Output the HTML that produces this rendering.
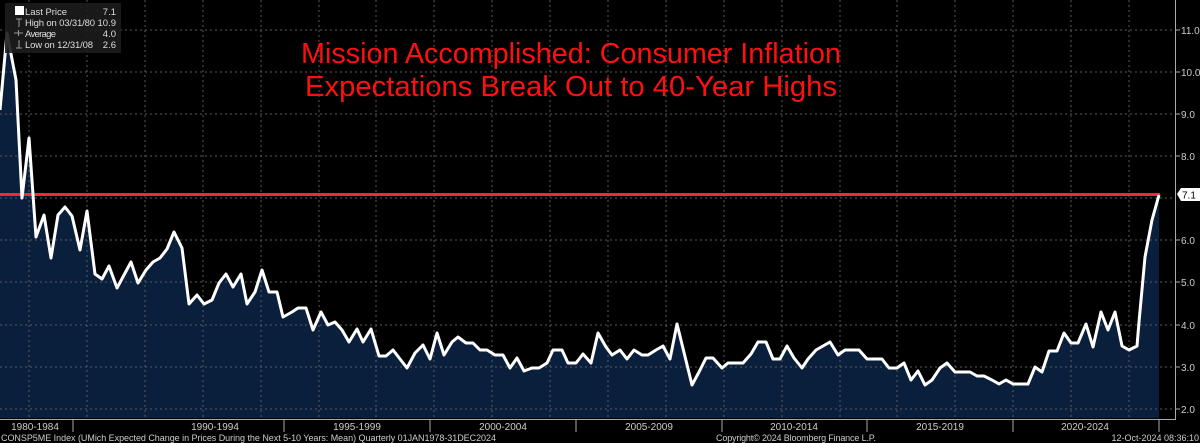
<!DOCTYPE html>
<html><head><meta charset="utf-8"><style>
html,body{margin:0;padding:0;background:#000;}
svg{display:block;font-family:"Liberation Sans",sans-serif;}
</style></head><body>
<svg width="1200" height="443" viewBox="0 0 1200 443" xmlns="http://www.w3.org/2000/svg">
<rect width="1200" height="443" fill="#000"/>
<polygon fill="#0a1f3c" points="0,418 0,110 7,33 16,80 22,198 29,138 36,237 44,215 51,258 58,215 65,207 72,216 80,250 87,211 95,274 102,279 109,266 117,288 124,275 131,262 138,283 146,270 153,262 160,258 167,249 174,232 182,248 189,304 197,295 204,304 212,300 219,283 226,274 233,287 241,274 247,304 255,292 262,270 269,292 277,292 283,317 292,312 298,308 306,308 313,330 321,312 328,325 335,322 342,330 349,342 357,329 363,342 371,329 379,356 386,356 393,350 407,368 415,353 423,345 430,359 437,333 444,355 452,342 458,337 466,343 473,343 480,350 487,350 495,355 503,355 510,368 517,358 524,371 532,368 539,368 547,363 553,350 562,350 568,363 576,363 583,354 591,363 598,333 606,347 612,355 620,350 627,359 634,350 642,355 648,355 656,350 663,346 670,359 677,324 692,385 699,372 706,358 713,358 722,368 728,363 736,363 743,363 751,354 758,342 766,342 773,359 780,359 787,346 794,358 802,368 808,359 816,350 823,346 830,342 838,355 845,350 853,350 859,350 867,359 874,359 882,359 889,368 897,368 904,363 911,380 918,371 925,385 932,380 940,368 947,363 955,372 962,372 970,372 977,376 984,376 992,380 999,384 1006,380 1013,384 1021,384 1028,384 1035,367 1042,372 1049,351 1057,351 1064,333 1071,343 1078,343 1086,324 1093,347 1101,312 1108,330 1115,312 1122,346 1129,350 1137,346 1139,322 1145,257 1152,220 1159,195 1159,418"/>
<g stroke="#5a5a5a" stroke-width="1" stroke-dasharray="2,3">
<line x1="0" y1="30" x2="1175" y2="30"/><line x1="0" y1="72" x2="1175" y2="72"/><line x1="0" y1="114" x2="1175" y2="114"/><line x1="0" y1="156" x2="1175" y2="156"/><line x1="0" y1="198" x2="1175" y2="198"/><line x1="0" y1="240" x2="1175" y2="240"/><line x1="0" y1="282" x2="1175" y2="282"/><line x1="0" y1="325" x2="1175" y2="325"/><line x1="0" y1="367" x2="1175" y2="367"/><line x1="0" y1="409" x2="1175" y2="409"/>
<line x1="29" y1="0" x2="29" y2="418"/><line x1="87" y1="0" x2="87" y2="418"/><line x1="145" y1="0" x2="145" y2="418"/><line x1="203" y1="0" x2="203" y2="418"/><line x1="261" y1="0" x2="261" y2="418"/><line x1="319" y1="0" x2="319" y2="418"/><line x1="376" y1="0" x2="376" y2="418"/><line x1="434" y1="0" x2="434" y2="418"/><line x1="492" y1="0" x2="492" y2="418"/><line x1="550" y1="0" x2="550" y2="418"/><line x1="608" y1="0" x2="608" y2="418"/><line x1="666" y1="0" x2="666" y2="418"/><line x1="724" y1="0" x2="724" y2="418"/><line x1="782" y1="0" x2="782" y2="418"/><line x1="840" y1="0" x2="840" y2="418"/><line x1="897" y1="0" x2="897" y2="418"/><line x1="955" y1="0" x2="955" y2="418"/><line x1="1013" y1="0" x2="1013" y2="418"/><line x1="1071" y1="0" x2="1071" y2="418"/><line x1="1129" y1="0" x2="1129" y2="418"/>
</g>
<line x1="0" y1="194.5" x2="1160" y2="194.5" stroke="#f0283c" stroke-width="3"/>
<polyline fill="none" stroke="#fff" stroke-width="3" stroke-linejoin="round" points="0,110 7,33 16,80 22,198 29,138 36,237 44,215 51,258 58,215 65,207 72,216 80,250 87,211 95,274 102,279 109,266 117,288 124,275 131,262 138,283 146,270 153,262 160,258 167,249 174,232 182,248 189,304 197,295 204,304 212,300 219,283 226,274 233,287 241,274 247,304 255,292 262,270 269,292 277,292 283,317 292,312 298,308 306,308 313,330 321,312 328,325 335,322 342,330 349,342 357,329 363,342 371,329 379,356 386,356 393,350 407,368 415,353 423,345 430,359 437,333 444,355 452,342 458,337 466,343 473,343 480,350 487,350 495,355 503,355 510,368 517,358 524,371 532,368 539,368 547,363 553,350 562,350 568,363 576,363 583,354 591,363 598,333 606,347 612,355 620,350 627,359 634,350 642,355 648,355 656,350 663,346 670,359 677,324 692,385 699,372 706,358 713,358 722,368 728,363 736,363 743,363 751,354 758,342 766,342 773,359 780,359 787,346 794,358 802,368 808,359 816,350 823,346 830,342 838,355 845,350 853,350 859,350 867,359 874,359 882,359 889,368 897,368 904,363 911,380 918,371 925,385 932,380 940,368 947,363 955,372 962,372 970,372 977,376 984,376 992,380 999,384 1006,380 1013,384 1021,384 1028,384 1035,367 1042,372 1049,351 1057,351 1064,333 1071,343 1078,343 1086,324 1093,347 1101,312 1108,330 1115,312 1122,346 1129,350 1137,346 1139,322 1145,257 1152,220 1159,195"/>
<line x1="1175.5" y1="0" x2="1175.5" y2="419" stroke="#aaa" stroke-width="1"/>
<line x1="0" y1="419.5" x2="1176" y2="419.5" stroke="#aaa" stroke-width="1"/>
<g stroke="#aaa" stroke-width="1">
<line x1="73" y1="419" x2="73" y2="432"/><line x1="284" y1="419" x2="284" y2="432"/><line x1="430" y1="419" x2="430" y2="432"/><line x1="576" y1="419" x2="576" y2="432"/><line x1="722" y1="419" x2="722" y2="432"/><line x1="867" y1="419" x2="867" y2="432"/><line x1="1013" y1="419" x2="1013" y2="432"/><line x1="1159" y1="419" x2="1159" y2="432"/>
<line x1="1175" y1="30" x2="1180" y2="30"/><line x1="1175" y1="72" x2="1180" y2="72"/><line x1="1175" y1="114" x2="1180" y2="114"/><line x1="1175" y1="156" x2="1180" y2="156"/><line x1="1175" y1="240" x2="1180" y2="240"/><line x1="1175" y1="282" x2="1180" y2="282"/><line x1="1175" y1="325" x2="1180" y2="325"/><line x1="1175" y1="367" x2="1180" y2="367"/><line x1="1175" y1="409" x2="1180" y2="409"/>
</g>
<g fill="#ccc" font-size="10">
<text x="1181" y="34">11.0</text><text x="1181" y="76">10.0</text><text x="1181" y="118">9.0</text><text x="1181" y="160">8.0</text><text x="1181" y="244">6.0</text><text x="1181" y="286">5.0</text><text x="1181" y="329">4.0</text><text x="1181" y="371">3.0</text><text x="1181" y="413">2.0</text>
</g>
<polygon points="1177,194 1181,188 1200,188 1200,201 1181,201" fill="#fff"/>
<text x="1182" y="198.5" font-size="10" fill="#000">7.1</text>
<g fill="#ccc" font-size="10" text-anchor="middle">
<text x="35" y="430">1980-1984</text><text x="215" y="430">1990-1994</text><text x="357" y="430">1995-1999</text><text x="503" y="430">2000-2004</text><text x="649" y="430">2005-2009</text><text x="794" y="430">2010-2014</text><text x="940" y="430">2015-2019</text><text x="1085" y="430">2020-2024</text>
</g>
<g fill="#ccc" font-size="9">
<text x="1" y="441" textLength="495">CONSP5ME Index (UMich Expected Change in Prices During the Next 5-10 Years: Mean)  Quarterly 01JAN1978-31DEC2024</text>
<text x="716" y="441" textLength="160">Copyright© 2024 Bloomberg Finance L.P.</text>
<text x="1199" y="441" text-anchor="end">12-Oct-2024 08:36:10</text>
</g>
<rect x="5" y="3" width="116" height="50" fill="#1c1c1c" opacity="0.9"/>
<rect x="15" y="6" width="9" height="9" fill="#fff"/>
<g fill="#ddd" font-size="9.5">
<text x="25" y="15" textLength="42">Last Price</text><text x="116" y="15" text-anchor="end">7.1</text>
<text x="25" y="26" textLength="70">High on 03/31/80</text><text x="116" y="26" text-anchor="end">10.9</text>
<text x="25" y="37" textLength="31">Average</text><text x="116" y="37" text-anchor="end">4.0</text>
<text x="25" y="48" textLength="68">Low on 12/31/08</text><text x="116" y="48" text-anchor="end">2.6</text>
</g>
<g stroke="#999" stroke-width="1">
<line x1="16" y1="19" x2="22" y2="19"/><line x1="19" y1="19" x2="19" y2="27"/>
<line x1="14" y1="33" x2="23" y2="33"/><line x1="18.5" y1="30" x2="18.5" y2="36"/>
<line x1="19" y1="40" x2="19" y2="48"/><line x1="16" y1="48" x2="22" y2="48"/>
</g>
<g fill="#ff1010" font-size="29" text-anchor="middle">
<text x="571" y="63" textLength="540" lengthAdjust="spacingAndGlyphs">Mission Accomplished: Consumer Inflation</text>
<text x="571" y="96" textLength="532" lengthAdjust="spacingAndGlyphs">Expectations Break Out to 40-Year Highs</text>
</g>
</svg>
</body></html>
